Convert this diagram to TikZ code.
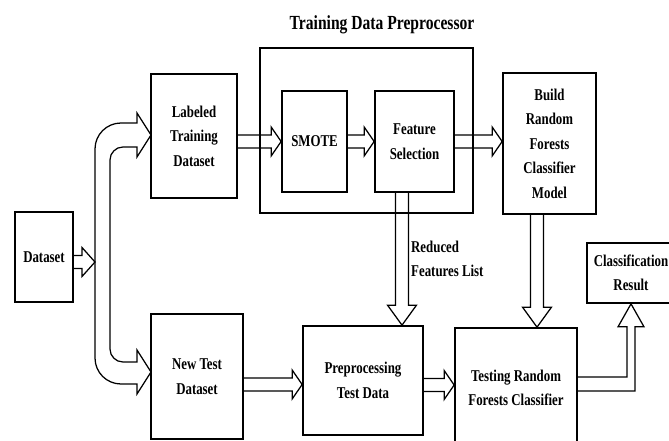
\documentclass[tikz,border=0pt]{standalone}
\usepackage{fontspec}
\setmainfont{Liberation Serif}[FakeStretch=0.78]
\usetikzlibrary{calc}

\begin{document}
\begin{tikzpicture}[
    x=1pt, y=-1pt,
    block/.style={draw, line width=1.7pt, rectangle, align=center, inner sep=2pt, font=\bfseries\fontsize{16.5}{24.5}\selectfont},
    groupbox/.style={draw, line width=1.7pt, rectangle, minimum width=213pt, minimum height=165pt},
    heading/.style={font=\bfseries\fontsize{20}{24}\selectfont},
    listtext/.style={align=left, inner sep=0pt, font=\bfseries\fontsize{16.5}{24.5}\selectfont},
    arrowline/.style={draw, line width=1.25pt, line join=miter},
    hollow/.style={arrowline, to path={let \p1=(\tikztostart), \p2=(\tikztotarget),
        \n1={veclen(\x2-\x1,\y2-\y1)}, \n2={atan2(\y2-\y1,\x2-\x1)} in
        ([shift={(\p1)},rotate=\n2]0pt,6.5pt) -- ([shift={(\p1)},rotate=\n2]{\n1*1pt-#1},6.5pt)
        -- ([shift={(\p1)},rotate=\n2]{\n1*1pt-#1},14.5pt) -- ([shift={(\p1)},rotate=\n2]{\n1*1pt},0pt)
        -- ([shift={(\p1)},rotate=\n2]{\n1*1pt-#1},-14.5pt) -- ([shift={(\p1)},rotate=\n2]{\n1*1pt-#1},-6.5pt)
        -- ([shift={(\p1)},rotate=\n2]0pt,-6.5pt)}},
    hollow/.default=10pt
]
    \useasboundingbox (0,0) rectangle (669,441);

    % Training Data Preprocessor
    \node (title) at (382,25) [heading] {Training Data Preprocessor};
    \node (prepbox) at (366.5,130.5) [groupbox] {};

    % Dataset
    \node (data) at (44,257) [block, minimum width=58pt, minimum height=90pt] {Dataset};

    % Labeled Training Dataset
    \node (labeled) at (194,136) [block, minimum width=86pt, minimum height=124pt] {Labeled\\Training\\Dataset};

    % New Test Dataset
    \node (newtest) at (197,376.5) [block, minimum width=92pt, minimum height=125pt] {New Test\\Dataset};

    % SMOTE and Feature Selection
    \node (smote) at (314.5,141.5) [block, minimum width=65pt, minimum height=101pt] {SMOTE};
    \node (featsel) at (414.5,141.5) [block, minimum width=79pt, minimum height=101pt] {Feature\\Selection};

    % Build Model
    \node (build) at (549.5,143.5) [block, minimum width=93pt, minimum height=141pt] {Build\\Random\\Forests\\Classifier\\Model};

    % Preprocessing Test Data
    \node (prepro) at (363,380.5) [block, minimum width=120pt, minimum height=109pt] {Preprocessing\\Test Data};

    % Testing
    \node (testing) at (516,388) [block, minimum width=122pt, minimum height=120pt] {Testing Random\\Forests Classifier};

    % Classification Result
    \node (result) at (631,273) [block, minimum width=88pt, minimum height=60pt] {Classification\\Result};

    % Reduced Features List
    \node (reduced) at (411,259) [listtext, anchor=west] {Reduced\\Features List};

    % Split of the dataset
    \coordinate (split) at (95,262);
    \coordinate (toptip) at (151,135);
    \coordinate (bottip) at (151,372);

    % Arrows
    \draw[hollow=13pt] ([yshift=-5pt]data.east) to (split);
    \draw[arrowline] (137,123) -- (137,113) -- (toptip) -- (137,157) -- (137,147)
        [rounded corners=13pt] -- (110,147) -- (110,362) [sharp corners] -- (137,362)
        -- (137,350) -- (bottip) -- (137,394) -- (137,384)
        [rounded corners=26pt] -- (95,384) -- (95,123) [sharp corners] -- cycle;
    \draw[hollow] (labeled.east |- smote.west) to (smote.west);
    \draw[hollow] (smote.east) to (featsel.west);
    \draw[hollow] (featsel.east) to (featsel.east -| build.west);
    \draw[hollow=20pt] ([xshift=-12.5pt]featsel.south) to ([xshift=-12.5pt]featsel.south |- prepro.north);
    \draw[hollow=20pt] ([xshift=-12.5pt]build.south) to ([xshift=-12.5pt]build.south |- testing.north);
    \draw[hollow] ([yshift=-8pt]newtest.east) to ([yshift=-8pt]newtest.east -| prepro.west);
    \draw[hollow] ([yshift=-4.5pt]prepro.east) to ([yshift=-4.5pt]prepro.east -| testing.west);
    \draw[arrowline] ($(testing.east)+(0,-11)$) -| ($(result.south)+(-4,23)$) -- ++(-9,0)
        -- (result.south) -- ++(13,23) -- ++(-9,0) |- ($(testing.east)+(0,3)$);
\end{tikzpicture}
\end{document}
